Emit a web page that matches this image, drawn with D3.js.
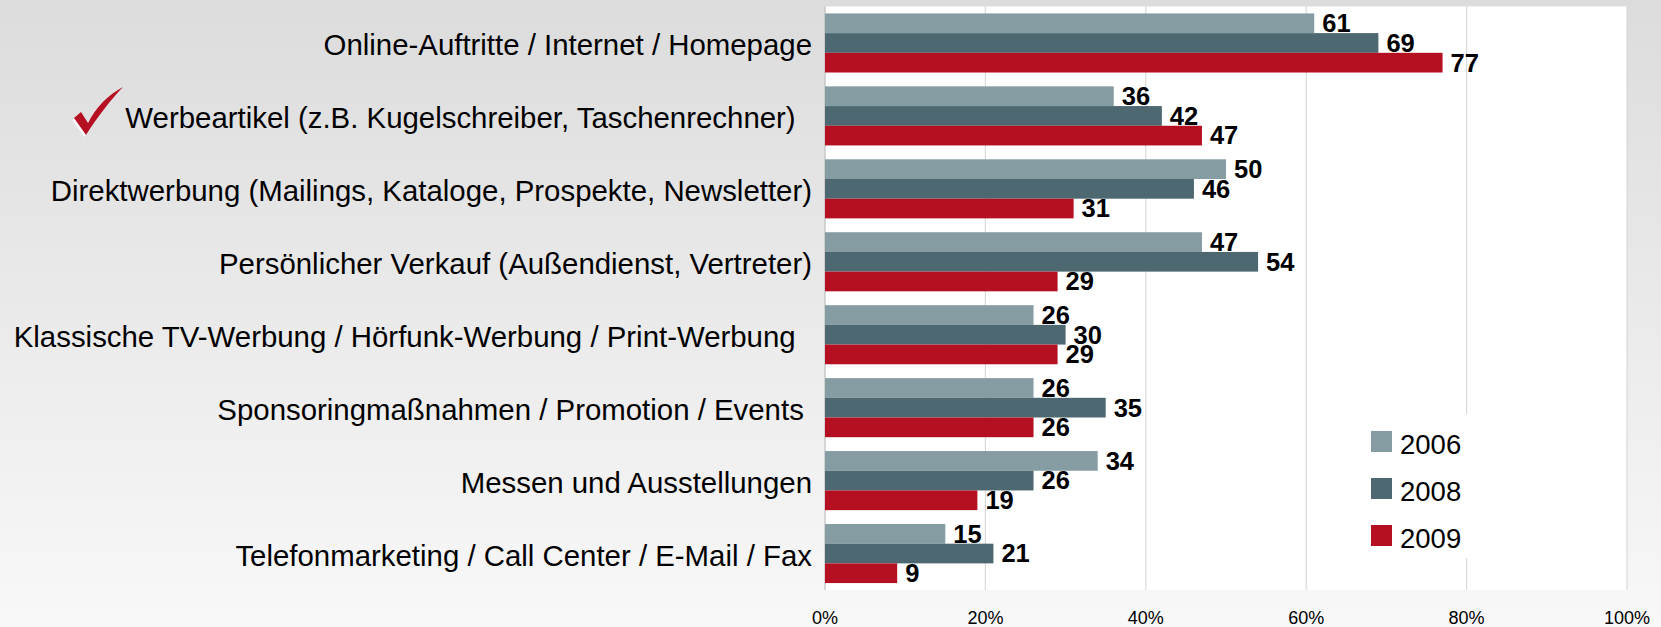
<!DOCTYPE html>
<html>
<head>
  <meta charset="utf-8">
  <title>Werbemittel</title>
  <style type="text/css">
body{
  margin:0;
  background:#fff;
}
svg text{
  font-family:"Liberation Sans", Arial, sans-serif;
  white-space:pre;
}
  </style>
</head>
<body>
<div id="chart"></div>
<script src="https://cdn.jsdelivr.net/npm/d3@7"></script>
<script type="text/javascript">
var categories = [
  "Online-Auftritte / Internet / Homepage",
  "Werbeartikel (z.B. Kugelschreiber, Taschenrechner)  ",
  "Direktwerbung (Mailings, Kataloge, Prospekte, Newsletter)",
  "Persönlicher Verkauf (Außendienst, Vertreter)",
  "Klassische TV-Werbung / Hörfunk-Werbung / Print-Werbung  ",
  "Sponsoringmaßnahmen / Promotion / Events ",
  "Messen und Ausstellungen",
  "Telefonmarketing / Call Center / E-Mail / Fax"
];
var years = ["2006", "2008", "2009"];
var values2006 = [61, 36, 50, 47, 26, 26, 34, 15];
var values2008 = [69, 42, 46, 54, 30, 35, 26, 21];
var values2009 = [77, 47, 31, 29, 29, 26, 19, 9];
var tickValues = [0, 20, 40, 60, 80, 100];
var colors = ["#849ca2", "#4e6872", "#b41022"];

var W = 1661, H = 627;
var plotL = 825, plotR = 1627, plotT = 6.5, plotB = 590;

var svg = d3.select("#chart").append("svg")
  .attr("width", W)
  .attr("height", H);

// background gradient
var grad = svg.append("defs").append("linearGradient")
  .attr("id", "bg").attr("x1", 0).attr("y1", 0).attr("x2", 0).attr("y2", 1);
grad.append("stop").attr("offset", "0%").attr("stop-color", "#dcdcdc");
grad.append("stop").attr("offset", "100%").attr("stop-color", "#f8f8f8");
svg.append("rect").attr("width", W).attr("height", H).attr("fill", "url(#bg)");

// plot area
svg.append("rect")
  .attr("x", plotL).attr("y", plotT)
  .attr("width", plotR - plotL).attr("height", plotB - plotT)
  .attr("fill", "#fff");

var x = d3.scaleLinear().domain([0, 100]).range([plotL, plotR]);
var y = d3.scaleBand().domain(categories).range([plotT, plotB])
  .paddingInner(0.19).paddingOuter(0.095);
var y1 = d3.scaleBand().domain(years).range([0, y.bandwidth()]);

// gridlines
svg.selectAll(".grid")
  .data(tickValues.slice(1))
  .enter().append("line")
  .attr("x1", function(d){ return x(d); })
  .attr("x2", function(d){ return x(d); })
  .attr("y1", plotT).attr("y2", plotB)
  .attr("stroke", "#d9d9d9").attr("stroke-width", 1.2);

svg.append("line")
  .attr("x1", plotL).attr("x2", plotL)
  .attr("y1", plotT).attr("y2", plotB)
  .attr("stroke", "#bfbfbf").attr("stroke-width", 1.2);

// tick labels
svg.selectAll(".tick")
  .data(tickValues)
  .enter().append("text")
  .attr("x", function(d){ return x(d); })
  .attr("y", 624)
  .attr("text-anchor", "middle")
  .style("font-size", "18px")
  .text(function(d){ return d + "%"; });

// bars
var series = [values2006, values2008, values2009];
var rows = [];
categories.forEach(function(c, i){
  years.forEach(function(yr, j){
    rows.push({cat: c, year: yr, value: series[j][i], color: colors[j]});
  });
});

svg.selectAll(".bar")
  .data(rows)
  .enter().append("rect")
  .attr("x", plotL)
  .attr("y", function(d){ return y(d.cat) + y1(d.year); })
  .attr("width", function(d){ return x(d.value) - plotL; })
  .attr("height", y1.bandwidth())
  .attr("fill", function(d){ return d.color; });

svg.selectAll(".val")
  .data(rows)
  .enter().append("text")
  .attr("x", function(d){ return x(d.value) + 8; })
  .attr("y", function(d){ return y(d.cat) + y1(d.year) + y1.bandwidth() - 1; })
  .style("font-size", "25.5px")
  .style("font-weight", "bold")
  .text(function(d){ return d.value; });

// category labels
svg.selectAll(".cat")
  .data(categories)
  .enter().append("text")
  .attr("x", 812)
  .attr("y", function(d){ return y(d) + y.bandwidth() / 2 + 12; })
  .attr("text-anchor", "end")
  .style("font-size", "29.4px")
  .text(function(d){ return d; });

// check mark next to Werbeartikel
var chk = "M74,118 L81,112 L88,123 C96,107 108,95 123,87 C110,101 98,116 86,135 Z";
svg.append("path").attr("d", chk).attr("fill", "#fff")
  .attr("transform", "translate(-1.5,2)");
svg.append("path").attr("d", chk).attr("fill", "#b41022");

// legend
svg.append("rect")
  .attr("x", 1360).attr("y", 414)
  .attr("width", 120).attr("height", 144)
  .attr("fill", "#fff");

var legend = svg.selectAll(".leg")
  .data(years)
  .enter().append("g")
  .attr("transform", function(d, i){ return "translate(1371," + (431 + i * 47) + ")"; });
legend.append("rect")
  .attr("width", 21).attr("height", 21)
  .attr("fill", function(d, i){ return colors[i]; });
legend.append("text")
  .attr("x", 29).attr("y", 23)
  .style("font-size", "27.5px")
  .text(function(d){ return d; });
</script>
</body>
</html>
